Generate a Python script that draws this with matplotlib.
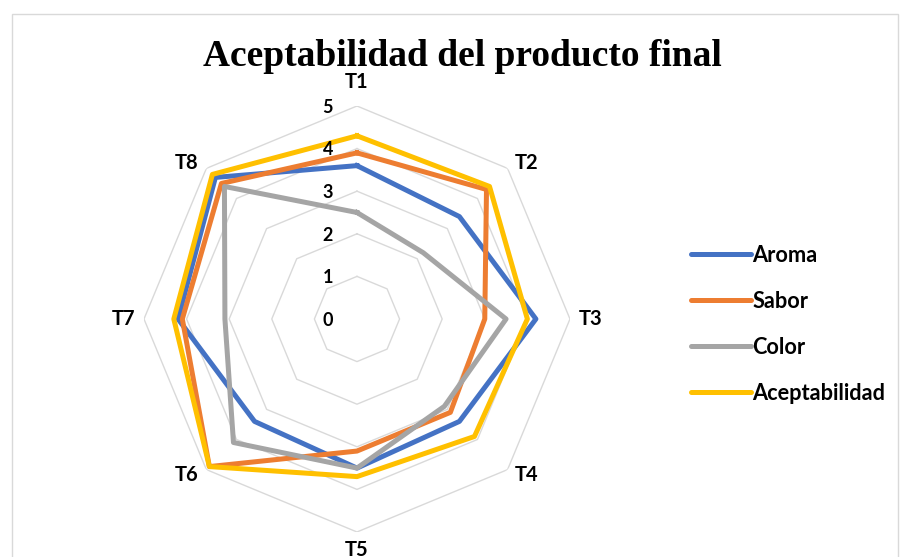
import numpy as np
import matplotlib
matplotlib.use("Agg")
import matplotlib.pyplot as plt
from matplotlib.patches import Rectangle

# sensory panel scores per treatment
treatments = ["T1", "T2", "T3", "T4", "T5", "T6", "T7", "T8"]
aroma = [3.6, 3.4, 4.2, 3.4, 3.5, 3.4, 4.2, 4.7]
sabor = [3.9, 4.3, 3.0, 3.1, 3.1, 4.9, 4.1, 4.5]
color = [2.5, 2.2, 3.5, 2.9, 3.5, 4.1, 3.1, 4.4]
aceptabilidad = [4.3, 4.4, 4.0, 3.9, 3.7, 4.9, 4.3, 4.8]
scale_ticks = [0, 1, 2, 3, 4, 5]

series = [
    ("Aroma", aroma, "#4472C4"),
    ("Sabor", sabor, "#ED7D31"),
    ("Color", color, "#A5A5A5"),
    ("Aceptabilidad", aceptabilidad, "#FFC000"),
]

# category label nudges (points) away from the outer ring vertex
label_offsets = [(0, 17), (14, 4), (15, 0), (14, -4), (0, -13), (-14, -4), (-15, 0), (-14, 4)]

label_font = "Lato"

fig = plt.figure(figsize=(9.01, 5.57), dpi=100)
fig.patches.append(Rectangle((0.0133, -0.01), 0.9834, 0.985, transform=fig.transFigure,
                             fill=False, edgecolor="#D9D9D9", linewidth=1.0))

ax = fig.add_axes([0.1598, 0.0449, 0.4728, 0.7648], projection="polar")
ax.set_theta_offset(np.pi / 2)
ax.set_theta_direction(-1)
ax.set_ylim(0, 5)
ax.grid(False)
ax.set_xticks([])
ax.set_yticks([])
ax.spines["polar"].set_visible(False)
ax.patch.set_alpha(0)

angles = np.linspace(0, 2 * np.pi, len(treatments), endpoint=False)
closed = np.append(angles, angles[0])

# octagonal rings instead of circles
for r in scale_ticks[1:]:
    ax.plot(closed, [r] * len(closed), color="#D9D9D9", lw=1.0, zorder=1)

for name, vals, c in series:
    ax.plot(closed, vals + vals[:1], color=c, lw=3.6, label=name, zorder=3)

for r in scale_ticks:
    ax.annotate(str(r), xy=(0, r), xytext=(-21, -1), textcoords="offset points",
                ha="center", va="center", fontsize=13, fontweight="bold",
                family=label_font, annotation_clip=False)

top = scale_ticks[-1]
for a, t, off in zip(angles, treatments, label_offsets):
    ax.annotate(t, xy=(a, top), xytext=off, textcoords="offset points",
                ha="center", va="center", fontsize=14.5, fontweight="bold",
                family=label_font, annotation_clip=False)

fig.text(0.513, 0.898, "Aceptabilidad del producto final", ha="center", va="center",
         fontsize=27, fontweight="bold", family="Liberation Serif")

leg = fig.legend(loc="center left", bbox_to_anchor=(0.755, 0.418), frameon=False,
                 borderpad=0, handlelength=2.75, handletextpad=0.05, labelspacing=1.15,
                 prop={"family": label_font, "weight": "bold", "size": 15.7})
for h in leg.legend_handles:
    h.set_solid_capstyle("round")

fig.savefig("out.png", dpi=100)
